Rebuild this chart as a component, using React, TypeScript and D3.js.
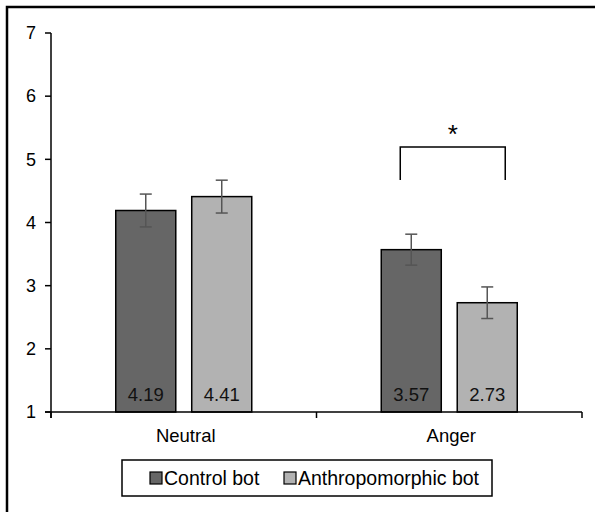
import React, { useEffect, useRef } from 'react'
import * as d3 from 'd3'

const categories = ['Neutral', 'Anger']
const seriesNames = ['Control bot', 'Anthropomorphic bot']
const controlValues = [4.19, 3.57]
const anthroValues = [4.41, 2.73]
const controlErrors = [0.26, 0.245]
const anthroErrors = [0.26, 0.25]
const yTicks = [1, 2, 3, 4, 5, 6, 7]
const colors = ['#666666', '#b2b2b2']

const App = () => {
  const ref = useRef<SVGSVGElement>(null)

  useEffect(() => {
    if (!ref.current) return
    const svg = d3.select(ref.current)
    svg.selectAll('*').remove()
    const font = 'Liberation Sans, Arial, sans-serif'

    // outer frame (right/bottom run off the picture)
    svg.append('rect')
      .attr('x', 7).attr('y', 7).attr('width', 600).attr('height', 520)
      .attr('fill', 'none').attr('stroke', '#000').attr('stroke-width', 2.5)

    const x0 = d3.scaleBand().domain(categories).range([51, 582])
    const x1 = d3.scaleBand().domain(seriesNames).range([0, 136]).paddingInner(0.21)
    const y = d3.scaleLinear().domain([1, 7]).range([412, 33])

    const g = svg.append('g')

    // y axis
    g.append('line').attr('x1', 51).attr('x2', 51).attr('y1', y(7)).attr('y2', 418)
      .attr('stroke', '#000').attr('stroke-width', 1.5)
    yTicks.forEach((t) => {
      g.append('line').attr('x1', 45).attr('x2', 51).attr('y1', y(t)).attr('y2', y(t))
        .attr('stroke', '#000').attr('stroke-width', 1.5)
      g.append('text').attr('x', 36).attr('y', y(t)).attr('dy', '0.35em')
        .attr('text-anchor', 'end').attr('font-family', font).attr('font-size', 18)
        .text(t)
    })

    const data = categories.map((c, i) => ({
      cat: c,
      bars: [
        { s: seriesNames[0], v: controlValues[i], e: controlErrors[i], c: colors[0] },
        { s: seriesNames[1], v: anthroValues[i], e: anthroErrors[i], c: colors[1] },
      ],
    }))

    data.forEach((d) => {
      const gx = (x0(d.cat) as number) + (x0.bandwidth() - 136) / 2
      d.bars.forEach((b) => {
        const bx = gx + (x1(b.s) as number)
        const bw = x1.bandwidth()
        g.append('rect').attr('x', bx).attr('y', y(b.v)).attr('width', bw)
          .attr('height', y(1) - y(b.v)).attr('fill', b.c)
          .attr('stroke', '#000').attr('stroke-width', 1.5)
        const cx = bx + bw / 2
        g.append('line').attr('x1', cx).attr('x2', cx).attr('y1', y(b.v + b.e)).attr('y2', y(b.v - b.e))
          .attr('stroke', '#555').attr('stroke-width', 1.5)
        ;[b.v + b.e, b.v - b.e].forEach((ev) => {
          g.append('line').attr('x1', cx - 6).attr('x2', cx + 6).attr('y1', y(ev)).attr('y2', y(ev))
            .attr('stroke', '#555').attr('stroke-width', 1.5)
        })
        g.append('text').attr('x', cx).attr('y', 401).attr('text-anchor', 'middle')
          .attr('font-family', font).attr('font-size', 18.5).attr('fill', '#111')
          .text(b.v.toFixed(2))
      })
    })

    // x axis
    g.append('line').attr('x1', 45).attr('x2', 582).attr('y1', y(1)).attr('y2', y(1))
      .attr('stroke', '#000').attr('stroke-width', 1.5)
    ;[51, (x0('Anger') as number), 582].forEach((t) => {
      g.append('line').attr('x1', t).attr('x2', t).attr('y1', y(1)).attr('y2', 418)
        .attr('stroke', '#000').attr('stroke-width', 1.5)
    })
    categories.forEach((c) => {
      g.append('text').attr('x', (x0(c) as number) + x0.bandwidth() / 2 + 2).attr('y', 442)
        .attr('text-anchor', 'middle').attr('font-family', font).attr('font-size', 18.5)
        .text(c)
    })

    // significance bracket
    const ax = (x0('Anger') as number) + (x0.bandwidth() - 136) / 2
    const bx1 = ax + (x1(seriesNames[0]) as number) + x1.bandwidth() / 2 - 11
    const bx2 = ax + (x1(seriesNames[1]) as number) + x1.bandwidth() / 2 + 18
    g.append('path')
      .attr('d', `M${bx1},180V147H${bx2}V180`)
      .attr('fill', 'none').attr('stroke', '#000').attr('stroke-width', 1.5)
    g.append('text').attr('x', (bx1 + bx2) / 2).attr('y', 143).attr('text-anchor', 'middle')
      .attr('font-family', font).attr('font-size', 26).text('*')

    // legend
    svg.append('rect').attr('x', 122).attr('y', 460).attr('width', 370).attr('height', 36)
      .attr('fill', '#fff').attr('stroke', '#000').attr('stroke-width', 1.5)
    const legX = [150, 284]
    seriesNames.forEach((s, i) => {
      svg.append('rect').attr('x', legX[i]).attr('y', 472).attr('width', 12).attr('height', 12)
        .attr('fill', colors[i]).attr('stroke', '#000').attr('stroke-width', 1.2)
      svg.append('text').attr('x', legX[i] + 14).attr('y', 478).attr('dy', '0.35em')
        .attr('font-family', font).attr('font-size', 19.5).text(s)
    })
  }, [])

  return (
    <svg ref={ref} width={595} height={512}
      style={{ position: 'absolute', left: 0, top: 0, background: '#fff' }} />
  )
}

export default App
